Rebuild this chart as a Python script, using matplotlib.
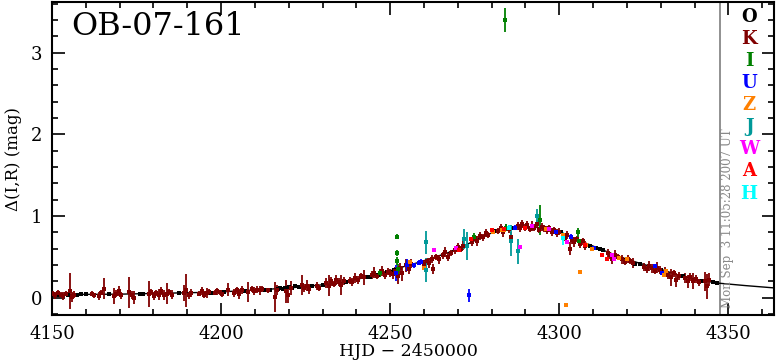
import matplotlib
matplotlib.use("Agg")
import matplotlib.pyplot as plt
from matplotlib.ticker import MultipleLocator

# model curve
model_t = [4150, 4170, 4199, 4220, 4235, 4247, 4253, 4259, 4267, 4273, 4279,
           4285, 4289, 4294, 4300, 4306, 4312, 4318, 4324, 4330, 4335, 4341,
           4347, 4355, 4364]
model_mag = [0.04, 0.045, 0.07, 0.12, 0.18, 0.29, 0.37, 0.44, 0.55, 0.66, 0.78,
             0.85, 0.87, 0.86, 0.80, 0.70, 0.60, 0.50, 0.42, 0.35, 0.28, 0.22,
             0.18, 0.15, 0.12]

# O (black)
o_t = [4150.5, 4152.0, 4154.8, 4157.5, 4158.5, 4160.0, 4166.8, 4176.0, 4177.0,
       4187.5, 4197.0, 4201.0, 4207.0, 4213.0, 4214.5, 4216.8, 4217.5, 4218.2,
       4218.9, 4220.0, 4221.0, 4222.0, 4223.0, 4227.0, 4230.0, 4237.0, 4243.5,
       4244.0, 4246.5, 4249.0, 4251.0, 4281.0, 4286.5, 4300.5, 4309.0, 4311.0,
       4312.0, 4313.0, 4322.5, 4324.0, 4330.0, 4336.5, 4342.3, 4345.5, 4346.5]
o_mag = [0.04, 0.04, 0.03, 0.04, 0.05, 0.05, 0.05, 0.05, 0.05,
         0.06, 0.06, 0.07, 0.08, 0.09, 0.10, 0.11, 0.12, 0.11,
         0.12, 0.13, 0.12, 0.14, 0.13, 0.15, 0.16, 0.19, 0.25,
         0.26, 0.28, 0.32, 0.34, 0.82, 0.86, 0.80, 0.63, 0.61,
         0.60, 0.58, 0.42, 0.41, 0.34, 0.27, 0.21, 0.19, 0.18]
o_err = [0.01] * len(o_t)

# K (dark red)
k_t = [4150.3, 4151.0, 4151.8, 4152.6, 4153.3, 4154.1, 4155.4, 4155.9, 4156.5,
       4161.7, 4162.3, 4163.9, 4164.6, 4165.3, 4168.3, 4169.0, 4169.7, 4170.4,
       4172.9, 4173.6, 4174.3, 4178.8, 4179.4, 4180.1, 4180.8, 4181.6, 4182.3,
       4183.1, 4183.9, 4184.6, 4185.4, 4189.0, 4189.7, 4190.4, 4191.1, 4193.6,
       4194.3, 4195.0, 4195.8, 4196.5, 4198.2, 4198.9, 4199.8, 4200.4, 4202.0,
       4203.9, 4204.6, 4205.3, 4206.1, 4207.9, 4209.0, 4209.8, 4210.6, 4211.4,
       4212.1, 4213.8, 4215.8, 4216.4, 4219.1, 4219.8, 4220.6, 4223.9, 4224.6,
       4225.4, 4226.1, 4228.3, 4229.0, 4231.1, 4231.8, 4232.5, 4233.3, 4234.0,
       4234.8, 4235.6, 4236.3, 4238.0, 4238.8, 4239.6, 4240.5, 4241.3, 4242.2,
       4244.5, 4245.3, 4246.1, 4246.9, 4247.7, 4248.5, 4249.3, 4250.0,
       4250.7, 4251.4, 4252.2, 4253.0, 4253.6, 4254.8, 4255.5, 4256.1, 4260.0,
       4260.8, 4261.5, 4262.3, 4262.8, 4263.6, 4264.4, 4265.5, 4266.3, 4267.1,
       4267.9, 4269.2, 4270.0, 4270.8, 4271.4, 4274.2, 4275.0, 4275.8, 4276.6,
       4277.4, 4278.2, 4279.0, 4282.0, 4282.8, 4283.5, 4284.2, 4285.0, 4285.8,
       4287.7, 4288.4, 4289.1, 4289.8, 4290.5, 4291.2, 4291.9, 4292.6, 4293.3,
       4294.0, 4294.8, 4295.5, 4296.3, 4297.0, 4297.8, 4298.5, 4299.2, 4300.0,
       4301.0, 4301.7, 4302.4, 4303.1, 4303.7, 4304.5, 4305.3, 4306.1, 4306.9,
       4307.6, 4314.3, 4315.0, 4315.7, 4316.5, 4317.3, 4318.6, 4319.4, 4320.2,
       4321.0, 4321.8, 4325.0, 4325.8, 4326.6, 4327.4, 4328.2, 4329.0, 4329.8,
       4330.6, 4331.4, 4332.2, 4333.0, 4333.8, 4334.6, 4335.4, 4337.2, 4338.0,
       4338.8, 4339.6, 4340.4, 4341.2, 4343.2, 4343.8, 4344.3]
k_mag = [0.05, 0.03, 0.06, 0.04, 0.02, 0.05, 0.08, 0.01, 0.04,
         0.05, 0.03, 0.02, 0.06, 0.11, 0.02, 0.05, 0.08, 0.03,
         0.07, 0.03, 0.00, 0.05, 0.07, 0.02, 0.06, 0.04, 0.08,
         0.03, 0.05, 0.07, 0.04, 0.06, 0.09, 0.03, 0.06, 0.05,
         0.08, 0.04, 0.06, 0.07, 0.06, 0.08, 0.07, 0.05, 0.10,
         0.06, 0.09, 0.05, 0.10, 0.07, 0.11, 0.08, 0.10, 0.09,
         0.11, 0.09, 0.01, 0.10, 0.08, 0.04, 0.12, 0.16, 0.12,
         0.15, 0.11, 0.14, 0.12, 0.18, 0.15, 0.20, 0.17, 0.22,
         0.19, 0.16, 0.21, 0.21, 0.19, 0.24, 0.22, 0.27, 0.25,
         0.28, 0.31, 0.27, 0.30, 0.33, 0.28, 0.32, 0.30,
         0.29, 0.33, 0.27, 0.36, 0.30, 0.40, 0.35, 0.42, 0.41,
         0.45, 0.43, 0.48, 0.35, 0.50, 0.47, 0.52, 0.56, 0.50,
         0.55, 0.58, 0.62, 0.60, 0.64, 0.68, 0.73, 0.70, 0.76,
         0.74, 0.79, 0.77, 0.82, 0.85, 0.80, 0.86, 0.84, 0.75,
         0.88, 0.85, 0.90, 0.86, 0.89, 0.84, 0.88, 0.86, 0.90,
         0.83, 0.87, 0.85, 0.83, 0.85, 0.81, 0.83, 0.79, 0.81,
         0.76, 0.73, 0.77, 0.60, 0.71, 0.68, 0.72, 0.66, 0.69,
         0.64, 0.55, 0.52, 0.48, 0.53, 0.50, 0.47, 0.44, 0.48,
         0.45, 0.43, 0.38, 0.35, 0.39, 0.36, 0.33, 0.37, 0.34,
         0.30, 0.32, 0.28, 0.25, 0.30, 0.22, 0.27, 0.24, 0.20,
         0.25, 0.21, 0.23, 0.19, 0.20, 0.14, 0.22]
k_err = [0.03, 0.04, 0.03, 0.03, 0.05, 0.03, 0.22, 0.06, 0.04,
         0.03, 0.03, 0.05, 0.03, 0.13, 0.10, 0.04, 0.06, 0.04,
         0.19, 0.05, 0.08, 0.16, 0.04, 0.05, 0.04, 0.07, 0.05,
         0.06, 0.13, 0.04, 0.05, 0.10, 0.20, 0.04, 0.05, 0.03,
         0.05, 0.04, 0.06, 0.04, 0.03, 0.04, 0.03, 0.04, 0.08,
         0.05, 0.04, 0.06, 0.05, 0.12, 0.04, 0.05, 0.04, 0.06,
         0.04, 0.03, 0.18, 0.06, 0.14, 0.10, 0.08, 0.12, 0.05,
         0.07, 0.06, 0.05, 0.04, 0.06, 0.13, 0.05, 0.04, 0.06,
         0.05, 0.12, 0.05, 0.04, 0.05, 0.06, 0.05, 0.04, 0.09,
         0.05, 0.07, 0.04, 0.05, 0.06, 0.05, 0.04, 0.05,
         0.06, 0.05, 0.10, 0.07, 0.09, 0.08, 0.06, 0.05, 0.05,
         0.04, 0.06, 0.05, 0.06, 0.04, 0.05, 0.04, 0.06, 0.05,
         0.04, 0.04, 0.05, 0.04, 0.05, 0.05, 0.04, 0.06, 0.05,
         0.04, 0.05, 0.04, 0.04, 0.05, 0.06, 0.04, 0.05, 0.05,
         0.05, 0.04, 0.05, 0.04, 0.05, 0.04, 0.06, 0.04, 0.05,
         0.04, 0.05, 0.04, 0.05, 0.04, 0.05, 0.04, 0.05, 0.04,
         0.05, 0.04, 0.05, 0.08, 0.05, 0.06, 0.04, 0.05, 0.04,
         0.05, 0.05, 0.04, 0.06, 0.05, 0.04, 0.05, 0.04, 0.05,
         0.04, 0.06, 0.05, 0.04, 0.06, 0.05, 0.04, 0.07, 0.05,
         0.04, 0.06, 0.05, 0.10, 0.04, 0.09, 0.05, 0.06, 0.08,
         0.05, 0.10, 0.05, 0.04, 0.12, 0.15, 0.08]

# I (green)
i_t = [4247.0, 4252.0, 4252.0, 4252.0, 4252.3, 4274.9, 4284.0, 4284.3, 4294.2, 4305.6, 4305.9]
i_mag = [0.30, 0.75, 0.55, 0.45, 0.35, 0.75, 3.40, 0.86, 0.95, 0.80, 0.69]
i_err = [0.04, 0.03, 0.04, 0.05, 0.06, 0.04, 0.15, 0.04, 0.18, 0.05, 0.03]

# U (blue)
u_t = [4251.8, 4255.0, 4257.0, 4258.5, 4259.2, 4273.4, 4287.0, 4299.0, 4303.5, 4310.4, 4328.4, 4330.5]
u_mag = [0.30, 0.40, 0.40, 0.43, 0.44, 0.03, 0.86, 0.80, 0.75, 0.61, 0.39, 0.31]
u_err = [0.10, 0.07, 0.03, 0.03, 0.03, 0.08, 0.03, 0.03, 0.03, 0.03, 0.02, 0.02]

# Z (orange)
z_t = [4256.0, 4260.0, 4280.5, 4283.0, 4283.7, 4296.0, 4301.0, 4302.0, 4306.0,
       4308.0, 4309.8, 4317.8, 4320.0, 4331.0, 4331.6]
z_mag = [0.44, 0.36, 0.80, 0.83, 0.83, 0.84, 0.77, -0.09, 0.32,
         0.65, 0.60, 0.49, 0.47, 0.28, 0.33]
z_err = [0.02] * len(z_t)

# J (teal)
j_t = [4260.7, 4260.7, 4271.9, 4272.8, 4285.8, 4287.9, 4293.5]
j_mag = [0.68, 0.34, 0.72, 0.63, 0.70, 0.57, 1.00]
j_err = [0.14, 0.15, 0.12, 0.17, 0.19, 0.15, 0.09]

# W (magenta)
w_t = [4263.0, 4269.5, 4274.0, 4288.5, 4292.0, 4297.0, 4302.4, 4315.7, 4316.3]
w_mag = [0.59, 0.61, 0.72, 0.62, 0.88, 0.84, 0.68, 0.53, 0.48]
w_err = [0.02] * len(w_t)

# A (red)
a_t = [4270.4, 4274.0, 4280.0, 4283.7, 4285.0, 4290.0, 4307.5, 4312.7, 4314.0]
a_mag = [0.59, 0.72, 0.83, 0.84, 0.86, 0.86, 0.65, 0.53, 0.48]
a_err = [0.03, 0.03, 0.02, 0.02, 0.02, 0.02, 0.03, 0.02, 0.02]

# H (cyan)
h_t = [4285.0, 4301.0]
h_mag = [0.86, 0.73]
h_err = [0.03, 0.08]

filters = ['O', 'K', 'I', 'U', 'Z', 'J', 'W', 'A', 'H']
colors = ['black', '#800000', '#008000', '#0000ff', '#ff8000',
          '#009999', '#ff00ff', '#ff0000', '#00ffff']
series = [(o_t, o_mag, o_err), (k_t, k_mag, k_err), (i_t, i_mag, i_err),
          (u_t, u_mag, u_err), (z_t, z_mag, z_err), (j_t, j_mag, j_err),
          (w_t, w_mag, w_err), (a_t, a_mag, a_err), (h_t, h_mag, h_err)]

now_hjd = 4347.5
stamp = 'Mon Sep  3 11:05:28 2007 UT'

plt.rcParams['font.family'] = ['DejaVu Serif']

fig = plt.figure(figsize=(7.76, 3.62), dpi=100)
ax = fig.add_axes([52 / 776, 1 - 315 / 362, 722 / 776, 313 / 362])

ax.plot(model_t, model_mag, color='black', lw=1.0, zorder=2)

for name, col, (t, m, e) in zip(filters, colors, series):
    ms = 2.2 if name == 'O' else 3.4
    ax.errorbar(t, m, yerr=e, fmt='s', color=col, ms=ms, mew=0,
                elinewidth=1.3, capsize=2.0, capthick=1.3, zorder=3)

ax.axvline(now_hjd, color='#888888', lw=1.3, zorder=1)
ax.text(now_hjd + 2.3, -0.12, stamp, rotation=90, color='#888888',
        fontsize=8.5, ha='center', va='bottom')

for n, (name, col) in enumerate(zip(filters, colors)):
    ax.text(0.9654, 0.952 - n * 0.0705, name, transform=ax.transAxes,
            color=col, fontsize=13, fontweight='bold', ha='center', va='center')

ax.text(0.027, 0.923, 'OB-07-161', transform=ax.transAxes, fontsize=23,
        ha='left', va='center')

ax.set_xlim(4150, 4363.5)
ax.set_ylim(-0.21, 3.62)
ax.xaxis.set_major_locator(MultipleLocator(50))
ax.xaxis.set_minor_locator(MultipleLocator(10))
ax.yaxis.set_major_locator(MultipleLocator(1))
ax.yaxis.set_minor_locator(MultipleLocator(0.2))
ax.tick_params(which='both', direction='in', top=True, right=True, width=1.2)
ax.tick_params(which='major', length=9, labelsize=13, pad=7)
ax.tick_params(which='minor', length=4.5)
for sp in ax.spines.values():
    sp.set_linewidth(1.5)

ax.set_xlabel('HJD \u2212 2450000', fontsize=12.5)
ax.xaxis.set_label_coords(0.493, -0.088)
ax.set_ylabel('\u0394(I,R) (mag)', fontsize=12)
ax.yaxis.set_label_coords(-0.0415, 0.5)

fig.savefig('out.png', dpi=100)
